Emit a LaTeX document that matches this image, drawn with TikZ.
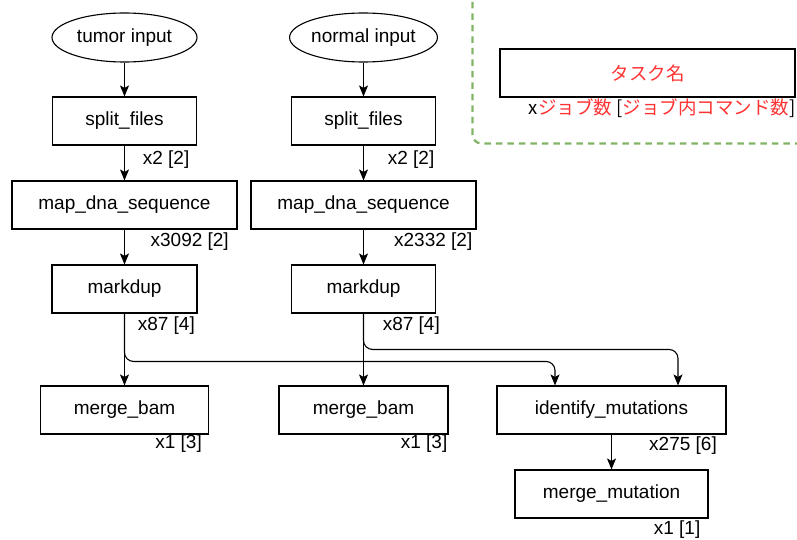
\documentclass[tikz,border=0pt]{standalone}
\usepackage{fontspec}
\setmainfont{Liberation Sans}
\newfontfamily\jpfont{Noto Sans CJK JP}
\usetikzlibrary{arrows.meta,shapes.geometric,calc}
\definecolor{legred}{HTML}{FF3333}
\definecolor{leggreen}{HTML}{82B366}
\begin{document}
\begin{tikzpicture}[x=1pt,y=-1pt,
  every node/.style={font=\fontsize{19}{22}\selectfont, inner sep=0pt},
  task/.style={draw=black, line width=1.1pt, rectangle, minimum height=48pt},
  inp/.style={draw=black, line width=1.1pt, ellipse, minimum width=145pt, minimum height=49pt},
  arr/.style={draw=black, line width=1.1pt, -{Stealth[length=11pt,width=9pt,inset=2.5pt]}},
  cnt/.style={anchor=east},
  jp/.style={font=\fontsize{18.5}{22}\jpfont}
]
\useasboundingbox (0,0) rectangle (797,540);
\clip (0,0) rectangle (797,540);

% legend frame
\draw[leggreen, line width=2.2pt, dash pattern=on 6.5pt off 5pt, rounded corners=9pt]
  (472.5,-30) rectangle (830,143.5);
\node[task, minimum width=295pt, jp, text=legred] (leg) at (647.5,73) {タスク名};
\node[anchor=east, font=\fontsize{18.5}{22}\jpfont] (legl) at (795.5,108)
  {x\textcolor{legred}{ジョブ数} [\textcolor{legred}{ジョブ内コマンド数}]};

% left column
\node[inp] (tin) at (124.5,37.5) {tumor input};
\node[task, minimum width=144pt] (sfL) at (124.5,121) {split\_files};
\node[task, minimum width=225pt] (mdsL) at (124.5,205) {map\_dna\_sequence};
\node[task, minimum width=145pt] (mkL) at (124.5,289) {markdup};
\node[task, minimum width=168pt] (mbL) at (124.5,410) {merge\_bam};

% right column
\node[inp] (nin) at (363.5,37.5) {normal input};
\node[task, minimum width=144pt] (sfR) at (363.5,121) {split\_files};
\node[task, minimum width=225pt] (mdsR) at (363.5,205) {map\_dna\_sequence};
\node[task, minimum width=144pt] (mkR) at (363.5,289) {markdup};
\node[task, minimum width=169pt] (mbM) at (363.5,410) {merge\_bam};

% mutations
\node[task, minimum width=229pt] (idm) at (611.5,410) {identify\_mutations};
\node[task, minimum width=193pt] (mm) at (611.5,494) {merge\_mutation};

% count labels
\node[cnt] (c1) at (189.5,159.5) {x2 [2]};
\node[cnt] (c2) at (229,242) {x3092 [2]};
\node[cnt] (c3) at (195,326) {x87 [4]};
\node[cnt] (c4) at (202,444) {x1 [3]};
\node[cnt] (c5) at (434.5,159.5) {x2 [2]};
\node[cnt] (c6) at (472.5,242) {x2332 [2]};
\node[cnt] (c7) at (440,326) {x87 [4]};
\node[cnt] (c8) at (447.5,444) {x1 [3]};
\node[cnt] (c9) at (717,446) {x275 [6]};
\node[cnt] (c10) at (700.5,530) {x1 [1]};

% connectors
\draw[arr] (tin.south) -- (tin.south |- sfL.north);
\draw[arr] (sfL.south) -- (sfL.south |- mdsL.north);
\draw[arr] (mdsL.south) -- (mdsL.south |- mkL.north);
\draw[arr] (mkL.south) -- (mkL.south |- mbL.north);
\draw[arr] (nin.south) -- (nin.south |- sfR.north);
\draw[arr] (sfR.south) -- (sfR.south |- mdsR.north);
\draw[arr] (mdsR.south) -- (mdsR.south |- mkR.north);
\draw[arr] (mkR.south) -- (mkR.south |- mbM.north);
\draw[arr, rounded corners=9pt] (mkL.south) |- ([xshift=-56.5pt,yshift=24pt]idm.north) -- ([xshift=-56.5pt]idm.north);
\draw[arr, rounded corners=9pt] (mkR.south) |- ([xshift=66.5pt,yshift=36pt]idm.north) -- ([xshift=66.5pt]idm.north);
\draw[arr] (idm.south) -- (mm.north);
\end{tikzpicture}
\end{document}
